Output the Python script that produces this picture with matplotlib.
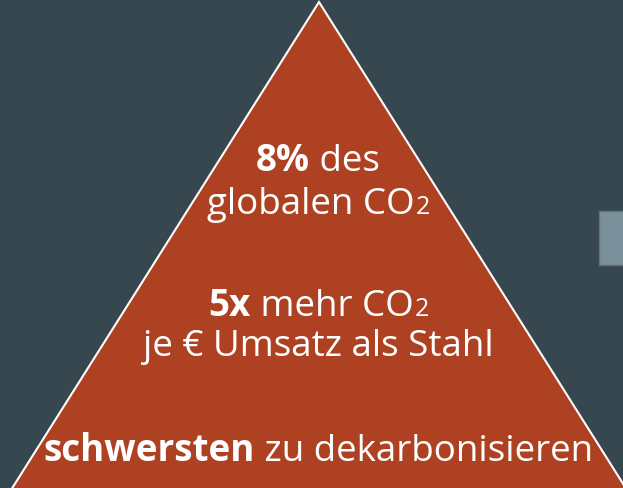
import matplotlib.pyplot as plt
from matplotlib.patches import Polygon, Rectangle

# Text lines of the pyramid: each line is a list of (text, bold, subscript)
lines = [
    [("8%", True, False), (" des", False, False)],
    [("globalen CO", False, False), ("2", False, True)],
    [("5x", True, False), (" mehr CO", False, False), ("2", False, True)],
    [("je € Umsatz als Stahl", False, False)],
    [("schwersten", True, False), (" zu dekarbonisieren", False, False)],
]
baselines = [171, 214, 316, 356, 461]

bg = "#37474f"
tri_color = "#ae4122"
W, H = 623, 489

fig = plt.figure(figsize=(W / 100, H / 100), dpi=100)
fig.patch.set_facecolor(bg)
ax = fig.add_axes([0, 0, 1, 1])
ax.set_xlim(0, W)
ax.set_ylim(H, 0)
ax.axis("off")

# triangle + grey tab on the right
ax.add_patch(Polygon([[319, 3], [11, 491], [627, 491]], closed=True,
                     facecolor=tri_color, edgecolor="white", linewidth=1.5))
ax.add_patch(Rectangle((599, 212), 30, 54, facecolor="#7a909b",
                       edgecolor="#5f7480", linewidth=1))

fs = 26.5
fam = ["Open Sans", "DejaVu Sans"]
fig.canvas.draw()
r = fig.canvas.get_renderer()

def draw_line(parts, y, cx=318):
    # measure first, then place pieces centered
    texts = []
    for s, bold, sub in parts:
        t = ax.text(0, y, s, fontsize=fs * 0.68 if sub else fs,
                    fontweight="bold" if bold else "normal", family=fam,
                    color="white", va="baseline", ha="left")
        texts.append((t, sub))
    widths = [t.get_window_extent(r).width for t, _ in texts]
    x = cx - sum(widths) / 2
    for (t, sub), w in zip(texts, widths):
        t.set_x(x + (1 if sub else 0))
        x += w

for parts, y in zip(lines, baselines):
    draw_line(parts, y)

fig.savefig("out.png", dpi=100, facecolor=bg)
